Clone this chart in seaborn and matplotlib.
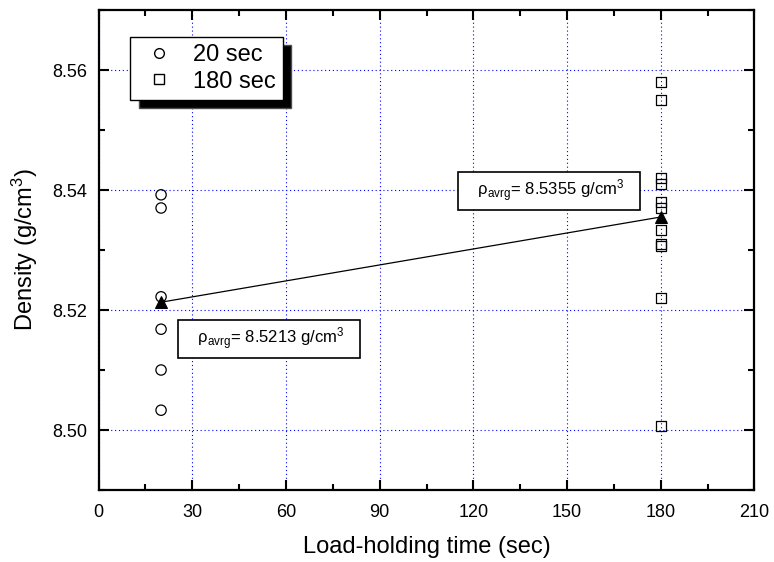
import pandas as pd
import matplotlib.pyplot as plt
import seaborn as sns
from matplotlib.lines import Line2D
from matplotlib.ticker import MultipleLocator

# Data
time_20 = [20, 20, 20, 20, 20, 20]
density_20 = [8.5392, 8.5370, 8.5222, 8.5168, 8.5100, 8.5033]
time_180 = [180] * 11
density_180 = [8.5580, 8.5550, 8.5420, 8.5410, 8.5380, 8.5370,
               8.5333, 8.5310, 8.5307, 8.5220, 8.5006]
avg_time = [20, 180]
avg_density = [8.5213, 8.5355]
avg_labels = ["8.5213", "8.5355"]

df = pd.DataFrame({
    "time": time_20 + time_180,
    "density": density_20 + density_180,
    "group": ["20 sec"] * len(time_20) + ["180 sec"] * len(time_180),
})
avg_df = pd.DataFrame({"time": avg_time, "density": avg_density})

sns.set_style("ticks", {"axes.edgecolor": "black", "text.color": "black",
                        "axes.labelcolor": "black", "xtick.color": "black",
                        "ytick.color": "black"})
plt.rcParams["font.family"] = ["Liberation Sans", "DejaVu Sans"]
plt.rcParams["mathtext.fontset"] = "custom"
plt.rcParams["mathtext.rm"] = "Liberation Sans"
plt.rcParams["mathtext.it"] = "Liberation Sans:italic"

fig = plt.figure(figsize=(7.74, 5.62), dpi=100)
ax = fig.add_axes([0.1274, 0.1281, 0.8473, 0.8541])

# Scatter of individual measurements
sns.scatterplot(data=df[df.group == "20 sec"], x="time", y="density", marker="o",
                s=55, facecolors="none", edgecolor="black", linewidth=0.9, ax=ax, zorder=3)
sns.scatterplot(data=df[df.group == "180 sec"], x="time", y="density", marker="s",
                s=50, facecolors="none", edgecolor="black", linewidth=0.9, ax=ax, zorder=3)

# Average line with triangles
sns.lineplot(data=avg_df, x="time", y="density", color="black", linewidth=0.9,
             marker="^", markersize=9, markeredgecolor="black", ax=ax, zorder=4)

ax.set_xlim(0, 210)
ax.set_ylim(8.49, 8.57)
ax.xaxis.set_major_locator(MultipleLocator(30))
ax.xaxis.set_minor_locator(MultipleLocator(15))
ax.yaxis.set_major_locator(MultipleLocator(0.02))
ax.yaxis.set_minor_locator(MultipleLocator(0.01))
ax.yaxis.set_major_formatter(plt.FormatStrFormatter("%.2f"))

ax.tick_params(which="both", direction="in", top=True, right=True, labelsize=13,
               width=1.5, color="black", labelcolor="black")
ax.tick_params(which="major", length=7)
ax.tick_params(which="minor", length=4)
ax.tick_params(axis="x", which="major", pad=10)
ax.tick_params(axis="y", which="major", pad=8)
for sp in ax.spines.values():
    sp.set_linewidth(1.6)
    sp.set_color("black")

ax.grid(True, which="major", color="blue", linestyle=(0, (1, 2.5)), linewidth=0.8)
ax.set_axisbelow(True)

ax.set_xlabel("Load-holding time (sec)", fontsize=17, labelpad=11, color="black")
ax.set_ylabel("Density (g/cm$^3$)", fontsize=17, labelpad=9, color="black")

# Average annotations
box = dict(boxstyle="square,pad=0.35", fc="white", ec="black", lw=1.2)
ax.text(54.6, 8.5152, "   ρ$_{\\rm avrg}$= " + avg_labels[0] + " g/cm$^3$   ",
        fontsize=12, ha="center", va="center", bbox=box, zorder=5, color="black")
ax.text(144.2, 8.5398, "   ρ$_{\\rm avrg}$= " + avg_labels[1] + " g/cm$^3$   ",
        fontsize=12, ha="center", va="center", bbox=box, zorder=5, color="black")

# Legend with solid shadow
handles = [
    Line2D([], [], marker="o", linestyle="none", markerfacecolor="none",
           markeredgecolor="black", markersize=7),
    Line2D([], [], marker="s", linestyle="none", markerfacecolor="none",
           markeredgecolor="black", markersize=7),
]
leg = ax.legend(handles, ["20 sec", "180 sec"], loc="upper left",
                bbox_to_anchor=(0.0482, 0.944), borderaxespad=0, fontsize=17,
                fancybox=False, edgecolor="black", framealpha=1, labelcolor="black",
                shadow={"ox": 6, "oy": -6, "facecolor": "black", "alpha": 1},
                handlelength=1.86, handletextpad=0.51, labelspacing=0.2, borderpad=0.3)
leg.get_frame().set_linewidth(1.0)

plt.savefig("out.png", dpi=100)
